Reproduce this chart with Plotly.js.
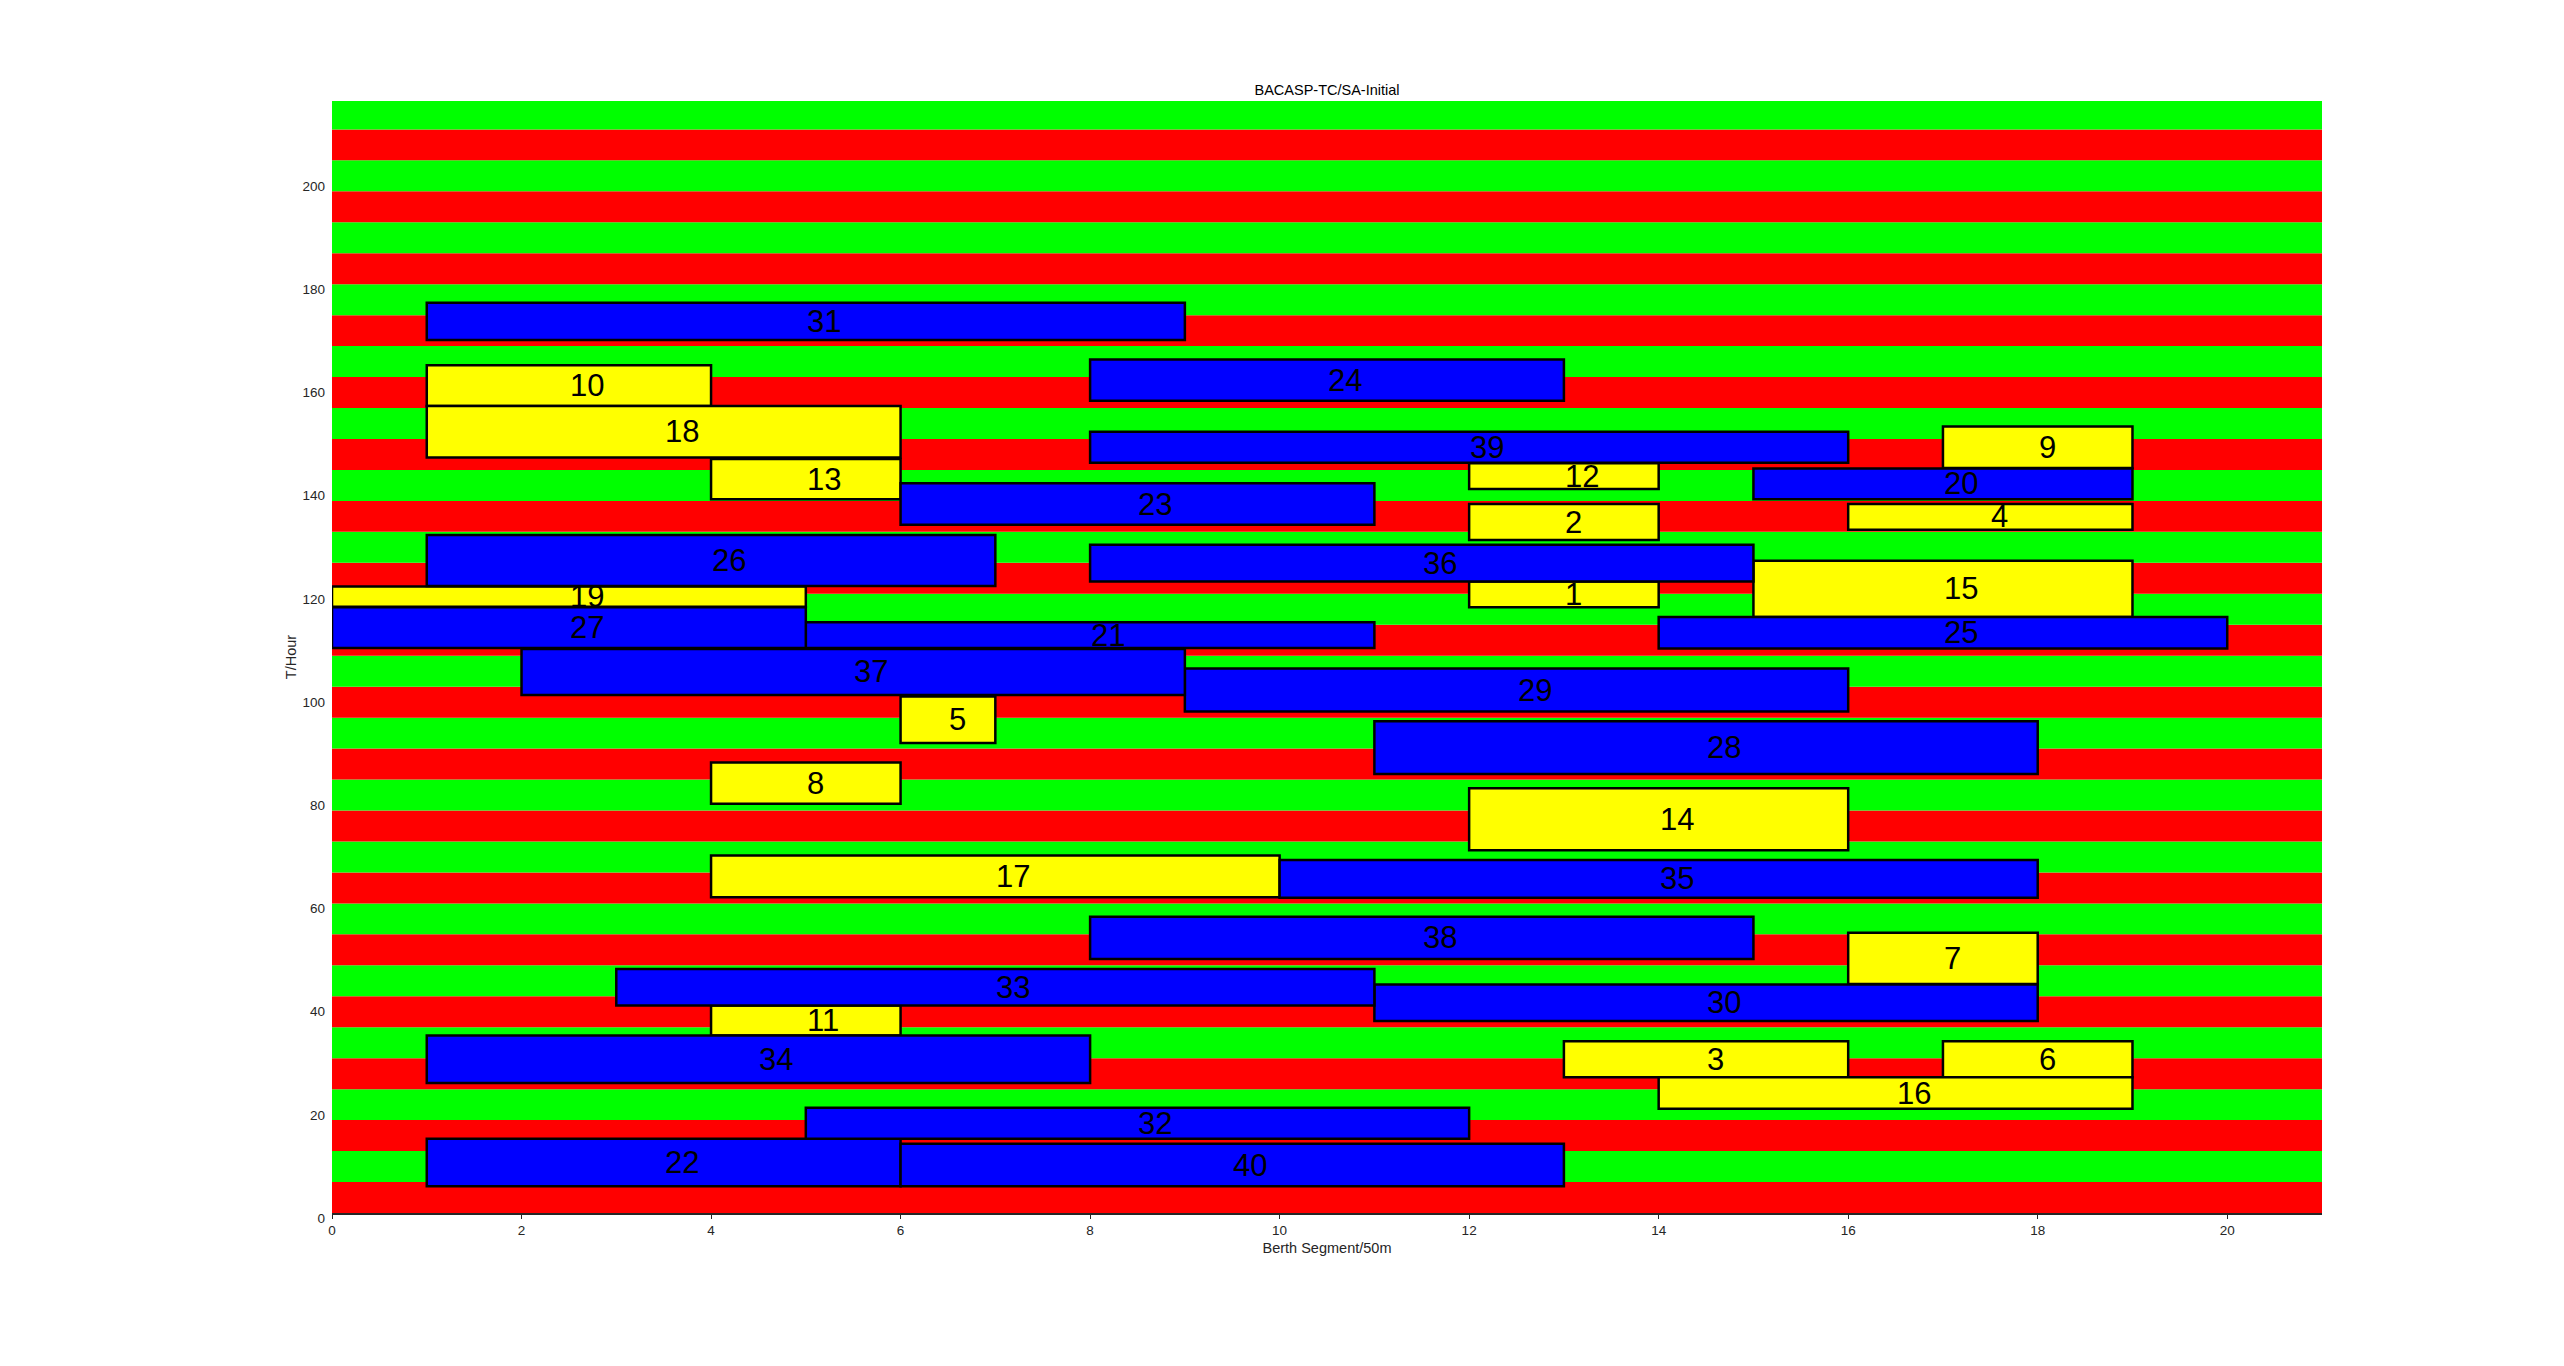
<!DOCTYPE html>
<html>
<head>
<meta charset="utf-8">
<script src="https://cdn.plot.ly/plotly-3.0.1.min.js"></script>
<style>
  html, body { margin: 0; padding: 0; background: #ffffff; }
  #chart { width: 2564px; height: 1366px; }
</style>
</head>
<body>
<div id="chart"></div>
<script>
// ---- Data ----
const vesselIds   = [1,2,3,4,5,6,7,8,9,10,11,12,13,14,15,16,17,18,19,20,21,22,23,24,25,26,27,28,29,30,31,32,33,34,35,36,37,38,39,40];
const berthStart  = [12,12,13,16,6,17,16,4,17,1,4,12,4,12,15,14,4,1,0,15,5,1,6,8,14,1,0,11,9,11,1,5,3,1,10,8,2,8,8,6];
const berthEnd    = [14,14,16,19,7,19,18,6,19,4,6,14,6,16,19,19,10,6,5,19,11,6,11,13,20,7,5,18,16,18,9,12,11,8,18,15,9,15,16,13];
const timeStart   = [117.4,130.4,26.3,132.4,91.1,26.3,44.4,79.3,144.4,156.4,34.4,140.3,138.3,70.3,115.5,20.2,61.2,146.4,117.5,138.3,109.5,5.2,133.4,157.4,109.4,121.5,109.5,85.1,97.2,37.2,169.2,14.4,40.2,25.2,61.1,122.4,100.4,49.2,145.4,5.2];
const timeEnd     = [122.4,137.4,33.3,137.4,100.1,33.3,54.3,87.3,152.4,164.3,40.2,145.3,146.1,82.3,126.4,26.3,69.3,156.4,121.4,144.3,114.5,14.4,141.4,165.4,115.5,131.4,117.4,95.3,105.5,44.3,176.4,20.4,47.3,34.4,68.4,129.5,109.3,57.4,151.4,13.4];
const vesselType  = ['Y','Y','Y','Y','Y','Y','Y','Y','Y','Y','Y','Y','Y','Y','Y','Y','Y','Y','Y','B','B','B','B','B','B','B','B','B','B','B','B','B','B','B','B','B','B','B','B','B'];

// Tide window bands (hours)
const bandStart = [0,6,12,18,24,30,36,42,48,54,60,66,72,78,84,90,96,102,108,114,120,126,132,138,144,150,156,162,168,174,180,186,192,198,204,210];
const bandEnd   = [6,12,18,24,30,36,42,48,54,60,66,72,78,84,90,96,102,108,114,120,126,132,138,144,150,156,162,168,174,180,186,192,198,204,210,216];
const bandState = ['R','G','R','G','R','G','R','G','R','G','R','G','R','G','R','G','R','G','R','G','R','G','R','G','R','G','R','G','R','G','R','G','R','G','R','G'];

const xTicks = [0,2,4,6,8,10,12,14,16,18,20];
const yTicks = [0,20,40,60,80,100,120,140,160,180,200];

// ---- Build ----
const bandColor = {R: '#ff0000', G: '#00ff00'};
const boxColor  = {Y: '#ffff00', B: '#0000ff'};

const shapes = [];
for (let i = 0; i < bandStart.length; i++) {
  shapes.push({
    type: 'rect', xref: 'paper', yref: 'y', layer: 'below',
    x0: 0, x1: 1, y0: bandStart[i], y1: bandEnd[i],
    fillcolor: bandColor[bandState[i]], line: {width: 0}
  });
}
for (let i = 0; i < vesselIds.length; i++) {
  shapes.push({
    type: 'rect', xref: 'x', yref: 'y', layer: 'above',
    x0: berthStart[i], x1: berthEnd[i], y0: timeStart[i], y1: timeEnd[i],
    fillcolor: boxColor[vesselType[i]], line: {color: '#000000', width: 2.5}
  });
}

const annotations = [];
for (let i = 0; i < vesselIds.length; i++) {
  annotations.push({
    xref: 'x', yref: 'y',
    x: (berthStart[i] + berthEnd[i]) / 2,
    y: (timeStart[i] + timeEnd[i]) / 2,
    text: String(vesselIds[i]),
    showarrow: false, xanchor: 'left', yanchor: 'middle',
    borderpad: 0,
    font: {family: 'Liberation Sans, Arial, sans-serif', size: 31, color: '#000000'}
  });
}

const layout = {
  width: 2564, height: 1366,
  paper_bgcolor: '#ffffff', plot_bgcolor: '#ffffff',
  margin: {l: 332, r: 242, t: 101, b: 153, pad: 0},
  showlegend: false,
  font: {family: 'Liberation Sans, Arial, sans-serif', color: '#262626'},
  title: {
    text: 'BACASP-TC/SA-Initial',
    font: {size: 14.5, color: '#000000'},
    x: 0.5, xanchor: 'center', xref: 'paper',
    y: 1, yref: 'paper', yanchor: 'bottom', pad: {b: 6}
  },
  xaxis: {
    range: [0, 21], tickvals: xTicks, ticktext: xTicks.map(String),
    showgrid: false, zeroline: false,
    showline: true, linecolor: '#262626', linewidth: 1.5,
    ticks: 'outside', ticklen: 4, tickcolor: '#262626', tickwidth: 1,
    tickfont: {size: 13.5, color: '#262626'},
    title: {text: 'Berth Segment/50m', font: {size: 14.5, color: '#262626'}, standoff: 6},
    fixedrange: true
  },
  yaxis: {
    range: [0, 215.5], tickvals: yTicks, ticktext: yTicks.map(String),
    showgrid: false, zeroline: false, showline: false,
    ticks: '', ticklabelstandoff: 6, ticklabelshift: 5,
    tickfont: {size: 13.5, color: '#262626'},
    title: {text: 'T/Hour', font: {size: 14.5, color: '#262626'}, standoff: 2},
    fixedrange: true
  },
  shapes: shapes,
  annotations: annotations
};

Plotly.newPlot('chart', [], layout, {displayModeBar: false, staticPlot: true});
</script>
</body>
</html>
